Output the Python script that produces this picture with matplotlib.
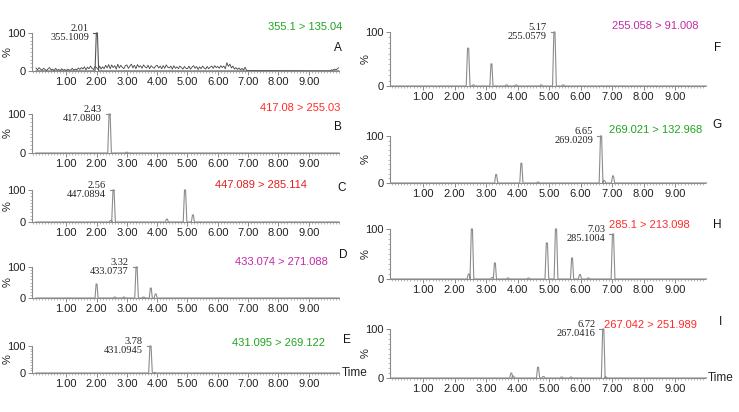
import matplotlib
matplotlib.use("Agg")
import matplotlib.pyplot as plt
from matplotlib.ticker import MultipleLocator, FormatStrFormatter

plt.rcParams['font.family'] = ['Liberation Sans Narrow', 'Liberation Sans', 'DejaVu Sans']

W, H = 739, 412

# panel identifiers and MRM transitions
letters = ["A", "B", "C", "D", "E", "F", "G", "H", "I"]
transitions = ["355.1 > 135.04", "417.08 > 255.03", "447.089 > 285.114",
               "433.074 > 271.088", "431.095 > 269.122", "255.058 > 91.008",
               "269.021 > 132.968", "285.1 > 213.098", "267.042 > 251.989"]
trans_colors = ["#1fa51f", "#ff2b2b", "#e02020", "#c22aa6", "#1fa51f",
                "#c22aa6", "#1fa51f", "#ff2b2b", "#ff2b2b"]
label_rt = ["2.01", "2.43", "2.56", "3.32", "3.78", "5.17", "6.65", "7.03", "6.72"]
label_mass = ["355.1009", "417.0800", "447.0894", "433.0737", "431.0945",
              "255.0579", "269.0209", "285.1004", "267.0416"]

# peaks: retention time (min), relative intensity (%)
peaks_rt = [
    [2.01],
    [2.43, 3.00],
    [2.47, 2.56, 4.32, 4.92, 5.18],
    [2.00, 2.60, 2.90, 3.32, 3.55, 3.79, 3.95],
    [3.78, 3.92],
    [2.43, 2.60, 3.17, 3.65, 3.95, 4.75, 5.17, 5.45],
    [3.32, 4.12, 4.65, 6.65, 6.75, 7.03],
    [2.45, 2.55, 3.20, 3.28, 3.70, 4.35, 4.93, 5.22, 5.73, 5.98, 6.25, 7.03],
    [3.80, 3.86, 4.65, 4.82, 5.40, 5.70, 6.72, 6.80],
]
peaks_h = [
    [100],
    [100, 2],
    [5, 100, 9, 100, 22],
    [45, 3, 3, 100, 3, 32, 13],
    [100, 2],
    [70, 2, 41, 2, 2, 2, 100, 2],
    [18, 42, 2, 100, 5, 15],
    [10, 100, 3, 32, 2, 2, 72, 100, 42, 9, 2, 90],
    [10, 4, 22, 3, 2, 2, 100, 2],
]
# top of the labelled peak (H is capped below full scale)
label_top = [100, 100, 100, 100, 100, 100, 100, 90, 100]

# baseline noise of trace A, sampled every 0.05 min from 0 to 7 min
noise_a = [8, 3, 9, 5, 2, 7, 4, 1, 6, 9, 3, 5, 1, 7, 2, 4, 1, 6, 2, 4,
           1, 5, 2, 3, 7, 2, 5, 3, 8, 4, 9, 5, 11, 3, 10, 6, 13, 7, 4, 12,
           9, 4, 13, 5, 11, 6, 15, 8, 17, 6, 16, 9, 14, 5, 18, 8, 15, 10, 6, 14,
           16, 7, 13, 18, 8, 15, 6, 17, 10, 14, 7, 16, 11, 8, 15, 6, 14, 10, 7, 13,
           15, 8, 13, 6, 14, 7, 16, 10, 8, 13, 5, 14, 7, 11, 6, 13, 9, 5, 12, 7,
           6, 13, 5, 10, 14, 7, 12, 4, 11, 6, 13, 8, 5, 12, 6, 10, 13, 7, 14, 9,
           12, 7, 14, 9, 13, 6, 22, 12, 18, 8, 13, 5, 9, 4, 8, 3, 7, 2, 10, 2, 1]
noise_a_tail_t = [9.70, 9.75, 9.80, 9.85, 9.90, 9.95, 10.0]
noise_a_tail = [0, 3, 2, 5, 3, 6, 9]

# axes boxes in pixels: (left, right, xmin, xmax) and (top of 100 %, 0 %)
left_col = (32, 339, -0.13, 10.0)
right_col = (390, 705, -0.05, 9.95)
rows_left = [(33, 71), (114, 153), (190, 222), (267, 298), (346, 373)]
rows_right = [(32, 86), (136, 183), (229, 279), (329, 378)]

# text positions (pixels): transition labels are right-aligned
trans_pos = [(342, 27), (340, 108), (307, 185), (328, 262), (325, 343),
             (698, 26), (702, 130), (690, 225), (697, 325)]
letter_pos = [(338, 48), (338, 127), (342, 188), (343, 255), (347, 340),
              (718, 48), (717, 125), (717, 225), (720, 322)]

fig = plt.figure(figsize=(W / 100, H / 100), dpi=100)


def trace(rts, hs, half=0.05):
    xs, ys = [0.0], [0.0]
    for rt, h in sorted(zip(rts, hs)):
        w = half if h < 60 else half * 1.2
        xs += [rt - w, rt - w * 0.3, rt + w * 0.3, rt + w]
        ys += [0, h, h, 0]
    xs.append(10.0)
    ys.append(0.0)
    return xs, ys


boxes = []
for top, bot in rows_left:
    boxes.append((left_col, top, bot))
for top, bot in rows_right:
    boxes.append((right_col, top, bot))

for i, (col, top, bot) in enumerate(boxes):
    x0, x1, xmin, xmax = col
    ax = fig.add_axes([x0 / W, 1 - bot / H, (x1 - x0) / W, (bot - top) / H])
    ax.set_xlim(xmin, xmax)
    ax.set_ylim(0, 100)
    for s in ["top", "right"]:
        ax.spines[s].set_visible(False)
    for s in ["left", "bottom"]:
        ax.spines[s].set_color("#8a8a8a")
        ax.spines[s].set_linewidth(0.8)

    col_line = "#8c8c8c"
    if i == 0:
        nt = [k * 0.05 for k in range(len(noise_a))]
        ax.plot(nt + noise_a_tail_t, noise_a + noise_a_tail, color="#444444", lw=0.6)
        col_line = "#555555"
    xs, ys = trace(peaks_rt[i], peaks_h[i])
    ax.plot(xs, ys, color=col_line, lw=0.8, clip_on=False)

    rt = float(label_rt[i])
    ax.plot([rt - 0.12, rt], [label_top[i], label_top[i]], color=col_line, lw=0.8, clip_on=False)
    ax.annotate(label_rt[i] + "\n" + label_mass[i], xy=(rt - 0.12, label_top[i]),
                xytext=(-3, 0), textcoords="offset points", ha="right", va="center",
                fontsize=7.5, family=["Liberation Serif", "DejaVu Serif"],
                linespacing=0.95, color="#222222")

    ax.xaxis.set_minor_locator(MultipleLocator(0.1))
    ax.xaxis.set_major_formatter(FormatStrFormatter("%.2f"))
    ax.set_xticks([1, 2, 3, 4, 5, 6, 7, 8, 9])
    ax.set_yticks([0, 100])
    ax.set_yticklabels(["0", "100"])
    ax.yaxis.set_minor_locator(MultipleLocator(10))
    ax.tick_params(axis="both", which="major", length=3, width=0.7, color="#8a8a8a",
                   labelsize=8, pad=1.5, labelcolor="#222222")
    ax.tick_params(axis="both", which="minor", length=1.5, width=0.5, color="#9a9a9a")
    ax.set_ylabel("%", fontsize=8, labelpad=-4, color="#222222")

    tx, ty = trans_pos[i]
    fig.text(tx / W, 1 - ty / H, transitions[i], color=trans_colors[i],
             fontsize=8, ha="right", va="center")
    lx, ly = letter_pos[i]
    fig.text(lx / W, 1 - ly / H, letters[i], fontsize=8.5, ha="center", va="center",
             family=["Liberation Sans", "DejaVu Sans"], color="#111111")

    if letters[i] in ("E", "I"):
        ax.text(1.01, 0, "Time", transform=ax.transAxes, fontsize=8.5,
                ha="left", va="center", color="#222222")

fig.savefig("out.png", dpi=100)
